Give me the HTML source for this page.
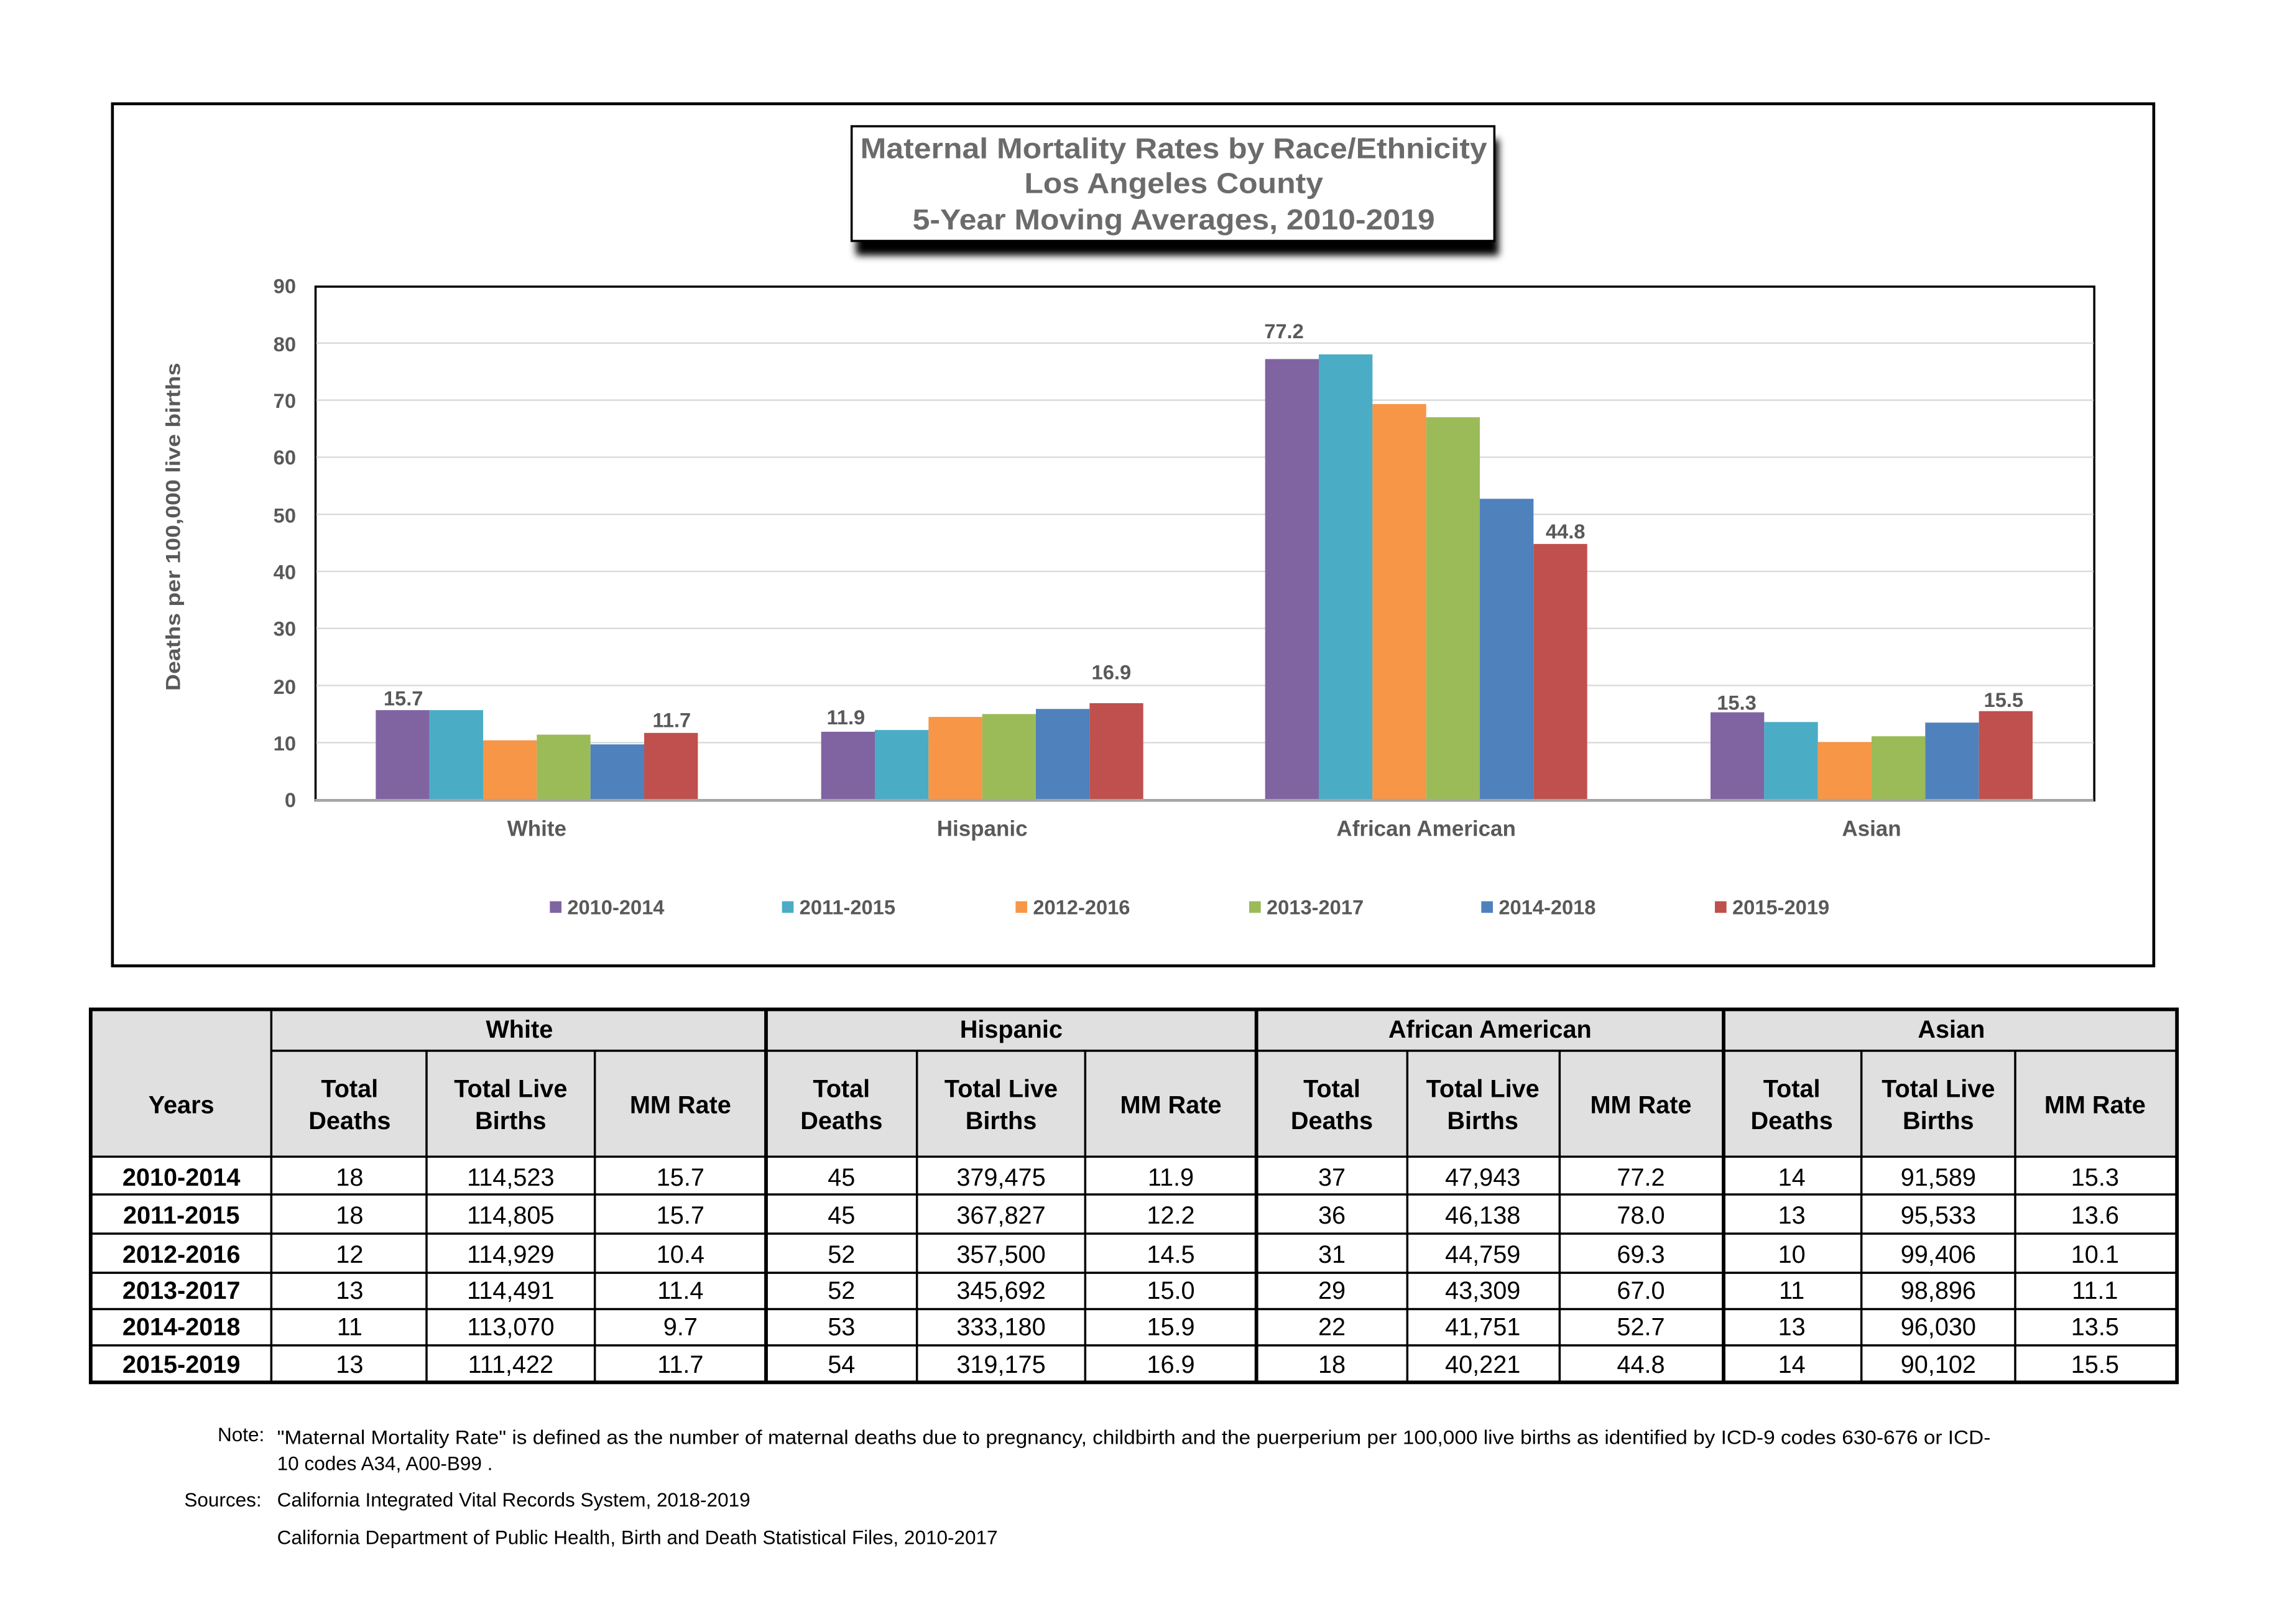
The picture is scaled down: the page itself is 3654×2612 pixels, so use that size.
<!DOCTYPE html>
<html><head><meta charset="utf-8"><style>
html,body{margin:0;padding:0;background:#fff}
svg{display:block}
text{font-family:"Liberation Sans",Arial,sans-serif}
</style></head><body>
<svg xmlns="http://www.w3.org/2000/svg" width="3654" height="2612" viewBox="0 0 1566 1119" preserveAspectRatio="none">
<defs><filter id="sh" x="-10%" y="-20%" width="120%" height="160%"><feGaussianBlur stdDeviation="2.5"/></filter></defs>
<rect x="0" y="0" width="1566" height="1119" fill="#fff"/>
<rect x="77.5" y="71.5" width="1407" height="594" fill="#fff" stroke="#000" stroke-width="2"/>
<rect x="590" y="96" width="443" height="80" fill="#000" filter="url(#sh)"/>
<rect x="587" y="87" width="443" height="79" fill="#fff" stroke="#000" stroke-width="1.5"/>
<g font-weight="bold" fill="#6b6b6b" font-size="20" text-anchor="middle">
<text x="809" y="109" textLength="432" lengthAdjust="spacingAndGlyphs">Maternal Mortality Rates by Race/Ethnicity</text>
<text x="809" y="133" textLength="206" lengthAdjust="spacingAndGlyphs">Los Angeles County</text>
<text x="809" y="158" textLength="360" lengthAdjust="spacingAndGlyphs">5-Year Moving Averages, 2010-2019</text>
</g>
<rect x="217.5" y="197.5" width="1226" height="354" fill="#fff" stroke="#000" stroke-width="1.5"/>
<g stroke="#d9d9d9" stroke-width="1">
<line x1="218" x2="1443" y1="236.4" y2="236.4"/><line x1="218" x2="1443" y1="275.7" y2="275.7"/>
<line x1="218" x2="1443" y1="315" y2="315"/><line x1="218" x2="1443" y1="354.4" y2="354.4"/>
<line x1="218" x2="1443" y1="393.7" y2="393.7"/><line x1="218" x2="1443" y1="433" y2="433"/>
<line x1="218" x2="1443" y1="472.3" y2="472.3"/><line x1="218" x2="1443" y1="511.7" y2="511.7"/>
</g>
<g font-weight="bold" fill="#595959" font-size="14" text-anchor="end">
<text x="204" y="556">0</text><text x="204" y="517">10</text><text x="204" y="478">20</text>
<text x="204" y="438">30</text><text x="204" y="399">40</text><text x="204" y="360">50</text>
<text x="204" y="320">60</text><text x="204" y="281">70</text><text x="204" y="242">80</text><text x="204" y="202">90</text>
</g>
<text transform="translate(124,363) rotate(-90)" text-anchor="middle" font-weight="bold" fill="#595959" font-size="14" textLength="226" lengthAdjust="spacingAndGlyphs">Deaths per 100,000 live births</text>
<g>
<rect x="259" y="489.3" width="37" height="61.7" fill="#8064A2"/><rect x="296" y="489.3" width="37" height="61.7" fill="#4BACC6"/><rect x="333" y="510.1" width="37" height="40.9" fill="#F79646"/><rect x="370" y="506.2" width="37" height="44.8" fill="#9BBB59"/><rect x="407" y="512.9" width="37" height="38.1" fill="#4F81BD"/><rect x="444" y="505" width="37" height="46" fill="#C0504D"/>
<rect x="566" y="504.2" width="37" height="46.8" fill="#8064A2"/><rect x="603" y="503" width="37" height="48" fill="#4BACC6"/><rect x="640" y="494" width="37" height="57" fill="#F79646"/><rect x="677" y="492" width="37" height="59" fill="#9BBB59"/><rect x="714" y="488.5" width="37" height="62.5" fill="#4F81BD"/><rect x="751" y="484.5" width="37" height="66.5" fill="#C0504D"/>
<rect x="872" y="247.4" width="37" height="303.6" fill="#8064A2"/><rect x="909" y="244.2" width="37" height="306.8" fill="#4BACC6"/><rect x="946" y="278.4" width="37" height="272.6" fill="#F79646"/><rect x="983" y="287.5" width="37" height="263.5" fill="#9BBB59"/><rect x="1020" y="343.7" width="37" height="207.3" fill="#4F81BD"/><rect x="1057" y="374.8" width="37" height="176.2" fill="#C0504D"/>
<rect x="1179" y="490.8" width="37" height="60.2" fill="#8064A2"/><rect x="1216" y="497.5" width="37" height="53.5" fill="#4BACC6"/><rect x="1253" y="511.3" width="37" height="39.7" fill="#F79646"/><rect x="1290" y="507.3" width="37" height="43.7" fill="#9BBB59"/><rect x="1327" y="497.9" width="37" height="53.1" fill="#4F81BD"/><rect x="1364" y="490" width="37" height="61" fill="#C0504D"/>
</g>
<line x1="217" x2="1443" y1="551.5" y2="551.5" stroke="#a6a6a6" stroke-width="2"/>
<g font-weight="bold" fill="#595959" font-size="15" text-anchor="middle">
<text x="370" y="576">White</text><text x="677" y="576">Hispanic</text>
<text x="983" y="576">African American</text><text x="1290" y="576">Asian</text>
</g>
<g font-weight="bold" fill="#595959" font-size="14">
<rect x="379" y="621" width="8" height="8" fill="#8064A2"/><text x="391" y="630">2010-2014</text>
<rect x="539" y="621" width="8" height="8" fill="#4BACC6"/><text x="551" y="630">2011-2015</text>
<rect x="700" y="621" width="8" height="8" fill="#F79646"/><text x="712" y="630">2012-2016</text>
<rect x="861" y="621" width="8" height="8" fill="#9BBB59"/><text x="873" y="630">2013-2017</text>
<rect x="1021" y="621" width="8" height="8" fill="#4F81BD"/><text x="1033" y="630">2014-2018</text>
<rect x="1182" y="621" width="8" height="8" fill="#C0504D"/><text x="1194" y="630">2015-2019</text>
</g>
<g font-weight="bold" fill="#595959" font-size="14" text-anchor="middle">
<text x="278" y="486">15.7</text><text x="463" y="501">11.7</text>
<text x="583" y="499">11.9</text><text x="766" y="468">16.9</text>
<text x="885" y="233">77.2</text><text x="1079" y="371">44.8</text>
<text x="1197" y="489">15.3</text><text x="1381" y="487">15.5</text>
</g>
<rect x="62" y="695" width="1439" height="102" fill="#e0e0e0"/>
<g stroke="#000" stroke-width="1.5">
<line x1="187" x2="1501" y1="724" y2="724"/>
<line x1="62" x2="1501" y1="797" y2="797"/><line x1="62" x2="1501" y1="823" y2="823"/>
<line x1="62" x2="1501" y1="850" y2="850"/><line x1="62" x2="1501" y1="877" y2="877"/>
<line x1="62" x2="1501" y1="902" y2="902"/><line x1="62" x2="1501" y1="927" y2="927"/>
<line x1="187" x2="187" y1="695" y2="953"/>
<line x1="294" x2="294" y1="724" y2="953"/><line x1="410" x2="410" y1="724" y2="953"/>
<line x1="632" x2="632" y1="724" y2="953"/><line x1="748" x2="748" y1="724" y2="953"/>
<line x1="970" x2="970" y1="724" y2="953"/><line x1="1075" x2="1075" y1="724" y2="953"/>
<line x1="1283" x2="1283" y1="724" y2="953"/><line x1="1389" x2="1389" y1="724" y2="953"/>
</g>
<g stroke="#000" stroke-width="2.5" fill="none">
<rect x="62.5" y="695.5" width="1438" height="257"/>
<line x1="528" x2="528" y1="695" y2="953"/><line x1="866" x2="866" y1="695" y2="953"/><line x1="1188" x2="1188" y1="695" y2="953"/>
</g>
<g font-weight="bold" fill="#000" font-size="17" text-anchor="middle">
<text x="358" y="715">White</text><text x="697" y="715">Hispanic</text><text x="1027" y="715">African American</text><text x="1345" y="715">Asian</text>
<text x="125" y="767">Years</text>
<text x="241" y="756">Total</text><text x="241" y="778">Deaths</text>
<text x="352" y="756">Total Live</text><text x="352" y="778">Births</text>
<text x="469" y="767">MM Rate</text>
<text x="580" y="756">Total</text><text x="580" y="778">Deaths</text>
<text x="690" y="756">Total Live</text><text x="690" y="778">Births</text>
<text x="807" y="767">MM Rate</text>
<text x="918" y="756">Total</text><text x="918" y="778">Deaths</text>
<text x="1022" y="756">Total Live</text><text x="1022" y="778">Births</text>
<text x="1131" y="767">MM Rate</text>
<text x="1235" y="756">Total</text><text x="1235" y="778">Deaths</text>
<text x="1336" y="756">Total Live</text><text x="1336" y="778">Births</text>
<text x="1444" y="767">MM Rate</text>
<text x="125" y="817">2010-2014</text><text x="125" y="843">2011-2015</text><text x="125" y="870">2012-2016</text>
<text x="125" y="895">2013-2017</text><text x="125" y="920">2014-2018</text><text x="125" y="946">2015-2019</text>
</g>
<g fill="#000" font-size="17" text-anchor="middle">
<text x="241" y="817">18</text><text x="352" y="817">114,523</text><text x="469" y="817">15.7</text><text x="580" y="817">45</text><text x="690" y="817">379,475</text><text x="807" y="817">11.9</text><text x="918" y="817">37</text><text x="1022" y="817">47,943</text><text x="1131" y="817">77.2</text><text x="1235" y="817">14</text><text x="1336" y="817">91,589</text><text x="1444" y="817">15.3</text>
<text x="241" y="843">18</text><text x="352" y="843">114,805</text><text x="469" y="843">15.7</text><text x="580" y="843">45</text><text x="690" y="843">367,827</text><text x="807" y="843">12.2</text><text x="918" y="843">36</text><text x="1022" y="843">46,138</text><text x="1131" y="843">78.0</text><text x="1235" y="843">13</text><text x="1336" y="843">95,533</text><text x="1444" y="843">13.6</text>
<text x="241" y="870">12</text><text x="352" y="870">114,929</text><text x="469" y="870">10.4</text><text x="580" y="870">52</text><text x="690" y="870">357,500</text><text x="807" y="870">14.5</text><text x="918" y="870">31</text><text x="1022" y="870">44,759</text><text x="1131" y="870">69.3</text><text x="1235" y="870">10</text><text x="1336" y="870">99,406</text><text x="1444" y="870">10.1</text>
<text x="241" y="895">13</text><text x="352" y="895">114,491</text><text x="469" y="895">11.4</text><text x="580" y="895">52</text><text x="690" y="895">345,692</text><text x="807" y="895">15.0</text><text x="918" y="895">29</text><text x="1022" y="895">43,309</text><text x="1131" y="895">67.0</text><text x="1235" y="895">11</text><text x="1336" y="895">98,896</text><text x="1444" y="895">11.1</text>
<text x="241" y="920">11</text><text x="352" y="920">113,070</text><text x="469" y="920">9.7</text><text x="580" y="920">53</text><text x="690" y="920">333,180</text><text x="807" y="920">15.9</text><text x="918" y="920">22</text><text x="1022" y="920">41,751</text><text x="1131" y="920">52.7</text><text x="1235" y="920">13</text><text x="1336" y="920">96,030</text><text x="1444" y="920">13.5</text>
<text x="241" y="946">13</text><text x="352" y="946">111,422</text><text x="469" y="946">11.7</text><text x="580" y="946">54</text><text x="690" y="946">319,175</text><text x="807" y="946">16.9</text><text x="918" y="946">18</text><text x="1022" y="946">40,221</text><text x="1131" y="946">44.8</text><text x="1235" y="946">14</text><text x="1336" y="946">90,102</text><text x="1444" y="946">15.5</text>
</g>
<g fill="#000" font-size="13.5">
<text x="150" y="993">Note:</text>
<text x="191" y="995" textLength="1181" lengthAdjust="spacingAndGlyphs">"Maternal Mortality Rate" is defined as the number of maternal deaths due to pregnancy, childbirth and the puerperium per 100,000 live births as identified by ICD-9 codes 630-676 or ICD-</text>
<text x="191" y="1013">10 codes A34, A00-B99 .</text>
<text x="127" y="1038">Sources:</text>
<text x="191" y="1038">California Integrated Vital Records System, 2018-2019</text>
<text x="191" y="1064">California Department of Public Health, Birth and Death Statistical Files, 2010-2017</text>
</g>
</svg>
</body></html>
